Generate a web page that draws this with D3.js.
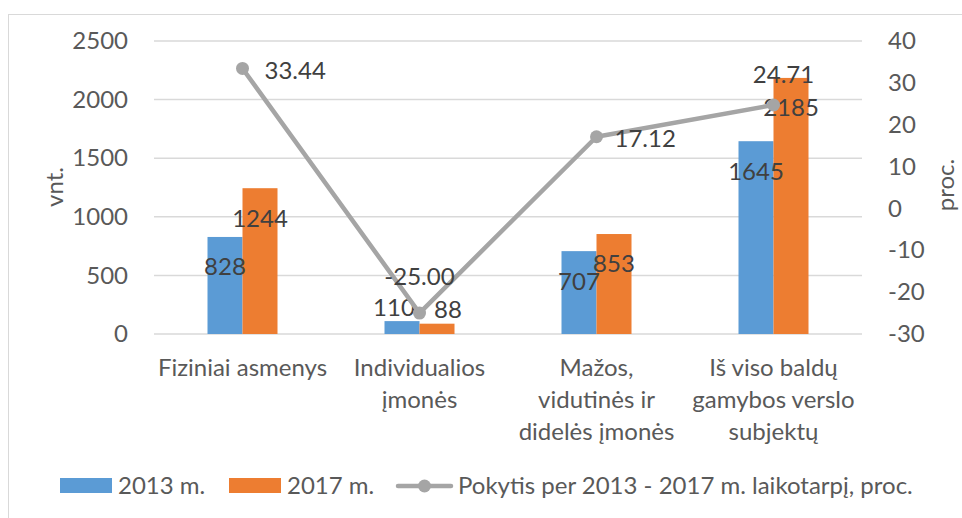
<!DOCTYPE html>
<html><head><meta charset="utf-8">
<script src="https://cdnjs.cloudflare.com/ajax/libs/d3/7.8.5/d3.min.js"></script>
<style>body{margin:0;background:#fff}svg{display:block}text{font-family:Lato,"Open Sans",sans-serif}</style>
</head><body><svg id="c" width="962" height="518"></svg>
<script>
const categories = [["Fiziniai asmenys"], ["Individualios", "įmonės"], ["Mažos,", "vidutinės ir", "didelės įmonės"], ["Iš viso baldų", "gamybos verslo", "subjektų"]];
const values2013 = [828, 110, 707, 1645];
const values2017 = [1244, 88, 853, 2185];
const change = [33.44, -25.00, 17.12, 24.71];
const leftTicks = [0, 500, 1000, 1500, 2000, 2500];
const rightTicks = [-30, -20, -10, 0, 10, 20, 30, 40];
const seriesNames = ["2013 m.", "2017 m.", "Pokytis per 2013 - 2017 m. laikotarpį, proc."];
const colors = ["#5B9BD5", "#ED7D31", "#A5A5A5"];

const svg = d3.select("#c");
const L = 154, R = 862, T = 41, B = 334;
const font = 24, txt = "#595959", lbl = "#404040";

svg.append("rect").attr("x", 8.5).attr("y", 14.5).attr("width", 970).attr("height", 520)
  .attr("fill", "none").attr("stroke", "#D9D9D9");

const x = d3.scaleBand().domain(d3.range(categories.length)).range([L, R]);
const yL = d3.scaleLinear().domain([0, 2500]).range([B, T]);
const yR = d3.scaleLinear().domain([-30, 40]).range([B, T]);
const bw = 35;
const fmt = d => String(d);

// gridlines
svg.append("g").selectAll("line").data(leftTicks).join("line")
  .attr("x1", L).attr("x2", R).attr("y1", d => yL(d)).attr("y2", d => yL(d))
  .attr("stroke", "#D9D9D9").attr("stroke-width", 1.5);

// left axis
const ax = svg.append("g").attr("transform", `translate(${L - 26},0)`)
  .call(d3.axisLeft(yL).tickValues(leftTicks).tickFormat(fmt).tickSize(0).tickPadding(0));
ax.select(".domain").remove();
ax.selectAll("text").attr("font-size", font).attr("fill", txt).attr("font-family", "Lato,sans-serif");

const axr = svg.append("g").attr("transform", `translate(${R + 26},0)`)
  .call(d3.axisRight(yR).tickValues(rightTicks).tickFormat(fmt).tickSize(0).tickPadding(0));
axr.select(".domain").remove();
axr.selectAll("text").attr("font-size", font).attr("fill", txt).attr("font-family", "Lato,sans-serif");

// axis titles
svg.append("text").attr("transform", `translate(63,187) rotate(-90)`).attr("text-anchor", "middle")
  .attr("font-size", font).attr("fill", txt).text("vnt.");
svg.append("text").attr("transform", `translate(954,185) rotate(-90)`).attr("text-anchor", "middle")
  .attr("font-size", font).attr("fill", txt).text("proc.");

// bars
const cx = i => x(i) + x.bandwidth() / 2;
svg.append("g").selectAll("rect").data(values2013).join("rect")
  .attr("x", (d, i) => cx(i) - bw).attr("width", bw).attr("y", d => yL(d)).attr("height", d => B - yL(d))
  .attr("fill", colors[0]);
svg.append("g").selectAll("rect").data(values2017).join("rect")
  .attr("x", (d, i) => cx(i)).attr("width", bw).attr("y", d => yL(d)).attr("height", d => B - yL(d))
  .attr("fill", colors[1]);

// bar labels
function barLabel(d) {
  const top = yL(d);
  return (B - top > 60) ? top + 30 : top - 14;
}
svg.append("g").selectAll("text").data(values2013).join("text")
  .attr("x", (d, i) => cx(i) - bw / 2 - (d < 200 ? 8 : 0)).attr("y", d => barLabel(d))
  .attr("dy", "0.35em").attr("text-anchor", "middle").attr("font-size", font).attr("fill", lbl).text(d => d);
svg.append("g").selectAll("text").data(values2017).join("text")
  .attr("x", (d, i) => cx(i) + bw / 2 + (d < 200 ? 11 : 0)).attr("y", d => barLabel(d))
  .attr("dy", "0.35em").attr("text-anchor", "middle").attr("font-size", font).attr("fill", lbl).text(d => d);

// line
const line = d3.line().x((d, i) => cx(i)).y(d => yR(d));
svg.append("path").datum(change).attr("d", line).attr("fill", "none")
  .attr("stroke", colors[2]).attr("stroke-width", 4.5).attr("stroke-linejoin", "round");
svg.append("g").selectAll("circle").data(change).join("circle")
  .attr("cx", (d, i) => cx(i)).attr("cy", d => yR(d)).attr("r", 6.5).attr("fill", colors[2]);

// line labels
const lpos = [
  {dx: 22, dy: 2, a: "start"},
  {dx: 0, dy: -36, a: "middle"},
  {dx: 18, dy: 2, a: "start"},
  {dx: 10, dy: -30, a: "middle"}
];
svg.append("g").selectAll("text").data(change).join("text")
  .attr("x", (d, i) => cx(i) + lpos[i].dx).attr("y", (d, i) => yR(d) + lpos[i].dy)
  .attr("dy", "0.35em").attr("text-anchor", (d, i) => lpos[i].a)
  .attr("font-size", font).attr("fill", lbl).text(d => d.toFixed(2));

// category labels
const cg = svg.append("g").selectAll("text").data(categories).join("text")
  .attr("x", (d, i) => cx(i)).attr("y", 368).attr("text-anchor", "middle")
  .attr("font-size", font).attr("fill", txt);
cg.selectAll("tspan").data(d => d).join("tspan")
  .attr("x", function () { return d3.select(this.parentNode).attr("x"); })
  .attr("dy", (d, j) => j === 0 ? "0.35em" : "32px").text(d => d);

// legend
const lg = svg.append("g");
const ly = 486;
lg.append("rect").attr("x", 60).attr("y", ly - 8).attr("width", 52).attr("height", 15).attr("fill", colors[0]);
lg.append("text").attr("x", 118).attr("y", ly).attr("dy", "0.35em").attr("font-size", font).attr("fill", txt).text(seriesNames[0]);
lg.append("rect").attr("x", 229).attr("y", ly - 8).attr("width", 52).attr("height", 15).attr("fill", colors[1]);
lg.append("text").attr("x", 287).attr("y", ly).attr("dy", "0.35em").attr("font-size", font).attr("fill", txt).text(seriesNames[1]);
lg.append("line").attr("x1", 398).attr("x2", 451).attr("y1", ly).attr("y2", ly)
  .attr("stroke", colors[2]).attr("stroke-width", 4.5).attr("stroke-linecap", "round");
lg.append("circle").attr("cx", 424.5).attr("cy", ly).attr("r", 6.5).attr("fill", colors[2]);
lg.append("text").attr("x", 458).attr("y", ly).attr("dy", "0.35em").attr("font-size", font).attr("fill", txt).text(seriesNames[2]);
</script></body></html>
